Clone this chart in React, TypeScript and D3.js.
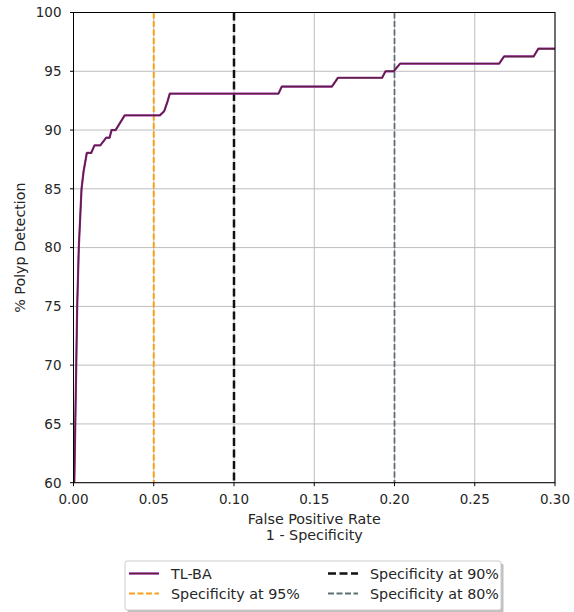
import React from 'react';
import * as d3 from 'd3';

// ROC curve points (false positive rate, % detection)
const fprValues = [
  0.0005, 0.0017, 0.0023, 0.0033, 0.005, 0.0063, 0.0083, 0.011, 0.0131, 0.0167,
  0.0204, 0.0225, 0.0237, 0.0262, 0.0319, 0.0538, 0.0565, 0.0585, 0.06, 0.1277,
  0.1298, 0.161, 0.1648, 0.1923, 0.1944, 0.1995, 0.2035, 0.2652, 0.2683, 0.2867,
  0.2896, 0.3,
];
const detectionValues = [
  60, 70, 75, 80, 85, 86.5, 88.05, 88.05, 88.7, 88.7,
  89.35, 89.35, 90.0, 90.0, 91.25, 91.25, 91.6, 92.4, 93.1, 93.1,
  93.7, 93.7, 94.45, 94.45, 95.0, 95.0, 95.65, 95.65, 96.26, 96.26,
  96.92, 96.92,
];

const xTicks = [0, 0.05, 0.1, 0.15, 0.2, 0.25, 0.3];
const yTicks = [60, 65, 70, 75, 80, 85, 90, 95, 100];

// Specificity reference lines
const refLabels = ['Specificity at 95%', 'Specificity at 90%', 'Specificity at 80%'];
const refFpr = [0.05, 0.1, 0.2];
const refColors = ['#f7a21b', '#111111', '#5f6e76'];
const refWidths = [2, 2.5, 1.8];
const refDashes = ['6 2.5', '8 3.5', '6 2.5'];

const curveLabel = 'TL-BA';

const font = '"DejaVu Sans", sans-serif';

export default function App() {
  const width = 574;
  const height = 612;
  const left = 73.5;
  const right = 555;
  const top = 12.5;
  const bottom = 482.7;

  const x = d3.scaleLinear().domain([0, 0.3]).range([left, right]);
  const y = d3.scaleLinear().domain([60, 100]).range([bottom, top]);

  const points = fprValues.map((f, i) => [f, detectionValues[i]] as [number, number]);
  const line = d3.line<[number, number]>()
    .x(d => x(d[0]))
    .y(d => y(d[1]));
  const path = line(points) || '';

  // legend layout
  const lg = { x: 125, y: 561, w: 376, h: 49 };
  const legendItems = [
    { label: curveLabel, kind: 'curve', col: 0, row: 0 },
    { label: refLabels[0], kind: 0, col: 0, row: 1 },
    { label: refLabels[1], kind: 1, col: 1, row: 0 },
    { label: refLabels[2], kind: 2, col: 1, row: 1 },
  ];
  const colX = [129, 328];

  return (
    <svg
      width={width}
      height={height}
      style={{ position: 'absolute', left: 0, top: 0, background: '#fff' }}
      fontFamily={font}
    >
      {/* grid */}
      {xTicks.map(t => (
        <line key={'gx' + t} x1={x(t)} x2={x(t)} y1={top} y2={bottom} stroke="#bdbdbd" strokeWidth={1} />
      ))}
      {yTicks.map(t => (
        <line key={'gy' + t} x1={left} x2={right} y1={y(t)} y2={y(t)} stroke="#bdbdbd" strokeWidth={1} />
      ))}

      {/* specificity lines */}
      {refFpr.map((f, i) => (
        <line
          key={'ref' + i}
          x1={x(f)}
          x2={x(f)}
          y1={top}
          y2={bottom}
          stroke={refColors[i]}
          strokeWidth={refWidths[i]}
          strokeDasharray={refDashes[i]}
        />
      ))}

      {/* ROC curve */}
      <path d={path} fill="none" stroke="#a22aa6" strokeWidth={2.2} strokeLinejoin="round" />
      <path d={path} fill="none" stroke="#5a2140" strokeWidth={1.4} strokeLinejoin="round" />

      {/* frame */}
      <rect x={left} y={top} width={right - left} height={bottom - top} fill="none" stroke="#000" strokeWidth={1} />

      {/* x axis */}
      {xTicks.map(t => (
        <g key={'xt' + t}>
          <line x1={x(t)} x2={x(t)} y1={bottom} y2={bottom + 3.5} stroke="#000" />
          <text x={x(t)} y={bottom + 21} fontSize={13.5} textAnchor="middle" fill="#262626">
            {t.toFixed(2)}
          </text>
        </g>
      ))}
      {/* y axis */}
      {yTicks.map(t => (
        <g key={'yt' + t}>
          <line x1={left - 3.5} x2={left} y1={y(t)} y2={y(t)} stroke="#000" />
          <text x={left - 12} y={y(t) + 4.8} fontSize={13.5} textAnchor="end" fill="#262626">
            {t}
          </text>
        </g>
      ))}

      {/* axis labels */}
      <text x={(left + right) / 2} y={524} fontSize={14.3} textAnchor="middle" fill="#262626">
        False Positive Rate
      </text>
      <text x={(left + right) / 2} y={540} fontSize={14.3} textAnchor="middle" fill="#262626">
        1 - Specificity
      </text>
      <text
        transform={`translate(25, ${(top + bottom) / 2}) rotate(-90)`}
        fontSize={14.3}
        textAnchor="middle"
        fill="#262626"
      >
        % Polyp Detection
      </text>

      {/* legend */}
      <rect x={lg.x + 2.5} y={lg.y + 2.5} width={lg.w} height={lg.h} fill="#8c8c8c" opacity={0.55} rx={2} />
      <rect x={lg.x} y={lg.y} width={lg.w} height={lg.h} fill="#fff" stroke="#cccccc" strokeWidth={1} rx={2} />
      {legendItems.map((item, i) => {
        const lx = colX[item.col];
        const ly = lg.y + 12.5 + item.row * 20;
        return (
          <g key={'lg' + i}>
            {item.kind === 'curve' ? (
              <>
                <line x1={lx} x2={lx + 30} y1={ly} y2={ly} stroke="#a22aa6" strokeWidth={2.2} />
                <line x1={lx} x2={lx + 30} y1={ly} y2={ly} stroke="#5a2140" strokeWidth={1.4} />
              </>
            ) : (
              <line
                x1={lx}
                x2={lx + 30}
                y1={ly}
                y2={ly}
                stroke={refColors[item.kind as number]}
                strokeWidth={refWidths[item.kind as number]}
                strokeDasharray={refDashes[item.kind as number]}
              />
            )}
            <text x={lx + 42} y={ly + 5} fontSize={14.3} fill="#262626">
              {item.label}
            </text>
          </g>
        );
      })}
    </svg>
  );
}
